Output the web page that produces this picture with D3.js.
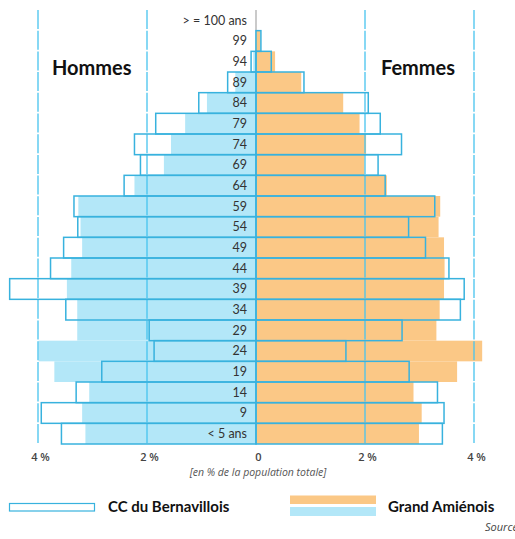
<!DOCTYPE html>
<html><head><meta charset="utf-8">
<script src="https://cdn.jsdelivr.net/npm/d3@7"></script>
<style>
body{margin:0;background:#fff;}
svg{display:block;font-family:Lato,"Open Sans",sans-serif;}
</style></head>
<body><svg id="c" width="515" height="539"></svg>
<script>
const categories = ["< 5 ans","9","14","19","24","29","34","39","44","49","54","59","64","69","74","79","84","89","94","99","> = 100 ans"];
// Grand Amiénois (filled)
const gaMen   = [3.13,3.19,3.06,3.70,3.99,3.28,3.28,3.47,3.39,3.19,3.22,3.26,2.23,1.69,1.56,1.30,0.90,0.38,0.05,0.01,0];
const gaWomen = [2.99,3.04,2.89,3.69,4.15,3.31,3.37,3.45,3.46,3.45,3.35,3.38,2.40,1.99,2.02,1.90,1.60,0.83,0.35,0.08,0];
// CC du Bernavillois (outline)
const ccMen   = [3.57,3.94,3.30,2.83,1.87,1.96,3.49,4.52,3.77,3.53,3.27,3.34,2.42,2.12,2.23,1.84,1.05,0.52,0.09,0,0];
const ccWomen = [3.42,3.45,3.33,2.81,1.65,2.68,3.75,3.82,3.54,3.11,2.80,3.28,2.37,2.24,2.67,2.28,2.06,0.88,0.28,0.09,0];
const tickValues = [-4,-2,0,2,4];
const gridValues = [-4,-2,2,4];

const svg = d3.select("#c");
const x = d3.scaleLinear().domain([-4,4]).range([38,474]);
const y = d3.scaleBand().domain(categories.slice().reverse()).range([10,444]).padding(0);

const blueFill = "#b3e7f8", orange = "#fbc886", outline = "#38b2de", grid = "rgba(70,195,238,0.65)";

// center line
svg.append("line").attr("x1",x(0)).attr("x2",x(0)).attr("y1",10).attr("y2",444)
  .attr("stroke","#b8b8b8").attr("stroke-width",1.5);

const rows = categories.map((c,i)=>({c, gm:gaMen[i], gw:gaWomen[i], cm:ccMen[i], cw:ccWomen[i]}));

svg.append("g").selectAll("rect").data(rows).join("rect")
  .attr("x",d=>x(-d.gm)).attr("width",d=>x(0)-x(-d.gm))
  .attr("y",d=>y(d.c)).attr("height",y.bandwidth()).attr("fill",blueFill);
svg.append("g").selectAll("rect").data(rows).join("rect")
  .attr("x",x(0)).attr("width",d=>x(d.gw)-x(0))
  .attr("y",d=>y(d.c)).attr("height",y.bandwidth()).attr("fill",orange);

// grid lines
svg.append("g").selectAll("line").data(gridValues).join("line")
  .attr("x1",d=>x(d)).attr("x2",d=>x(d)).attr("y1",10).attr("y2",444)
  .attr("stroke",grid).attr("stroke-width",2).attr("stroke-dasharray","19,1.7");

// outlines
svg.append("g").selectAll("rect").data(rows.filter(d=>d.cm>0)).join("rect")
  .attr("x",d=>x(-d.cm)).attr("width",d=>x(0)-x(-d.cm))
  .attr("y",d=>y(d.c)).attr("height",y.bandwidth())
  .attr("fill","none").attr("stroke",outline).attr("stroke-width",1.5);
svg.append("g").selectAll("rect").data(rows.filter(d=>d.cw>0)).join("rect")
  .attr("x",x(0)).attr("width",d=>x(d.cw)-x(0))
  .attr("y",d=>y(d.c)).attr("height",y.bandwidth())
  .attr("fill","none").attr("stroke",outline).attr("stroke-width",1.5);

// category labels
svg.append("g").selectAll("text").data(categories).join("text")
  .attr("x",247).attr("y",d=>y(d)+y.bandwidth()/2).attr("dy","0.35em")
  .attr("text-anchor","end").attr("font-size",12.5).attr("fill","#333").text(d=>d);

// axis
const ax = svg.append("g").attr("transform","translate(2,444)")
  .call(d3.axisBottom(x).tickValues(tickValues).tickSize(0).tickPadding(9)
    .tickFormat(d=>d===0?"0":Math.abs(d)+" %"));
ax.select(".domain").remove();
ax.selectAll("text").attr("font-size",11).attr("fill","#444").attr("font-weight",600)
  .attr("font-family","'Open Sans',sans-serif");

svg.append("text").attr("x",258).attr("y",476).attr("text-anchor","middle")
  .attr("font-size",10.5).attr("font-style","italic").attr("fill","#555")
  .attr("font-family","'Open Sans',sans-serif").text("[en % de la population totale]");

svg.append("text").attr("x",52).attr("y",75).attr("font-size",20).attr("font-weight","bold").attr("fill","#111").text("Hommes");
svg.append("text").attr("x",381).attr("y",75).attr("font-size",20).attr("font-weight","bold").attr("fill","#111").text("Femmes");

// legend
svg.append("rect").attr("x",9.5).attr("y",503.5).attr("width",85).attr("height",7.5)
  .attr("fill","#fff").attr("stroke",outline).attr("stroke-width",1.2);
svg.append("text").attr("x",108).attr("y",512).attr("font-size",15).attr("font-weight","bold").attr("fill","#111").text("CC du Bernavillois");
svg.append("rect").attr("x",290).attr("y",495.5).attr("width",86).attr("height",8.5).attr("fill",orange);
svg.append("rect").attr("x",290).attr("y",507).attr("width",86).attr("height",9).attr("fill",blueFill);
svg.append("text").attr("x",388).attr("y",512).attr("font-size",15).attr("font-weight","bold").attr("fill","#111").text("Grand Amiénois");
svg.append("text").attr("x",485).attr("y",531).attr("font-size",11).attr("font-style","italic").attr("fill","#444")
  .attr("font-family","'Open Sans',sans-serif").text("Source : Insee");
</script></body></html>
